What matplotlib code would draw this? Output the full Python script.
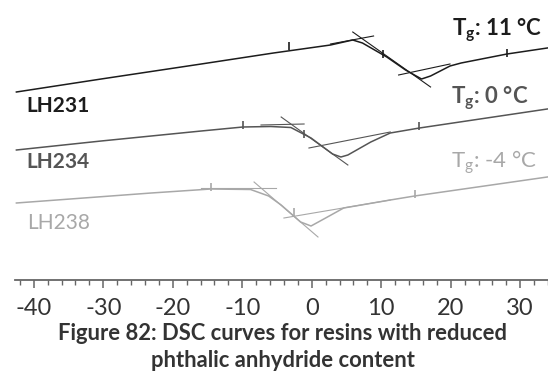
import numpy as np
import matplotlib
matplotlib.use("Agg")
import matplotlib.pyplot as plt
from matplotlib.ticker import MultipleLocator

plt.rcParams['font.family'] = ['Lato', 'DejaVu Sans']
plt.rcParams['mathtext.fontset'] = 'custom'
plt.rcParams['mathtext.rm'] = 'Lato'
plt.rcParams['mathtext.bf'] = 'Lato:bold'

# DSC curves: temperature (°C) vs heat flow (arbitrary units, stacked)
t_231 = [-42.5, -30.3, -15.9, -5.5, 2.7, 5.9, 7.3, 10.8, 13.5, 15.8, 17.1, 19.9, 21.5, 28.1, 33.9]
h_231 = [18.8, 20.1, 21.6, 22.7, 23.5, 24.0, 23.7, 22.3, 21.0, 20.1, 20.4, 21.4, 21.7, 22.6, 23.2]

t_234 = [-42.5, -30.3, -15.9, -9.9, -5.9, -3.0, -0.1, 3.0, 4.2, 5.2, 8.5, 11.3, 15.5, 33.9]
h_234 = [13.0, 13.9, 14.9, 15.3, 15.35, 15.25, 14.2, 12.6, 12.3, 12.5, 13.8, 14.7, 15.2, 17.1]

t_238 = [-42.5, -23.1, -14.5, -8.8, -6.2, -4.4, -1.6, -0.1, 2.0, 4.6, 11.3, 14.8, 33.9]
h_238 = [7.7, 8.7, 9.1, 9.05, 8.4, 7.5, 5.8, 5.4, 6.2, 7.2, 8.0, 8.4, 10.3]

# tangent construction lines (pre baseline, step tangent, post baseline)
tan_231 = [([2.7, 8.9], [23.6, 24.4]), ([5.9, 17.1], [24.8, 19.3]), ([12.5, 19.9], [20.5, 21.6])]
tan_234 = [([-7.3, -1.1], [15.5, 15.6]), ([-4.4, 5.2], [16.3, 11.5]), ([-0.4, 11.3], [13.2, 14.8])]
tan_238 = [([-15.9, -5.2], [9.2, 9.2]), ([-8.3, 0.9], [9.8, 4.3]), ([-4.0, 11.3], [6.2, 8.0])]

# evaluation markers
mk_231_t = [-3.2, 10.3, 28.1]
mk_231_h = [23.4, 22.6, 22.7]
mk_234_t = [-9.9, -1.1, 15.5]
mk_234_h = [15.5, 14.6, 15.4]
mk_238_t = [-14.5, -2.5, 14.8]
mk_238_h = [9.3, 6.8, 8.6]

names = ["LH231", "LH234", "LH238"]
tg_labels = ["11 °C", "0 °C", "-4 °C"]
colors = ["#1c1c1c", "#555555", "#a8a8a8"]

fig = plt.figure(figsize=(5.48, 3.74), dpi=100)
ax = fig.add_axes([15/548, 94/374, 533/548, 280/374])

curves = [(t_231, h_231, tan_231, mk_231_t, mk_231_h),
          (t_234, h_234, tan_234, mk_234_t, mk_234_h),
          (t_238, h_238, tan_238, mk_238_t, mk_238_h)]

for (t, h, tans, mt, mh), c in zip(curves, colors):
    ax.plot(t, h, color=c, lw=1.1)
    for tx, ty in tans:
        ax.plot(tx, ty, color=c, lw=0.8)
    ax.plot(mt, mh, ls='none', marker='|', ms=6, mew=1.2, color=c)

# labels
ax.text(-41.0, 16.8, names[0], color=colors[0], fontsize=15, fontweight='bold', va='baseline')
ax.text(-41.0, 11.2, names[1], color=colors[1], fontsize=15, fontweight='bold', va='baseline')
ax.text(-41.0, 5.1, names[2], color=colors[2], fontsize=15, va='baseline')

ax.text(20.2, 24.5, r'T$_{\mathbf{g}}$: ' + tg_labels[0], color=colors[0], fontsize=16, fontweight='bold', va='baseline')
ax.text(20.1, 17.7, r'T$_{\mathbf{g}}$: ' + tg_labels[1], color=colors[1], fontsize=16, fontweight='bold', va='baseline')
ax.text(20.1, 11.3, r'T$_{\mathrm{g}}$: ' + tg_labels[2], color=colors[2], fontsize=16, va='baseline')

ax.set_xlim(-42.7, 34.0)
ax.set_ylim(0, 28.0)
for s in ['top', 'left', 'right']:
    ax.spines[s].set_visible(False)
ax.spines['bottom'].set_color('#666666')
ax.spines['bottom'].set_linewidth(1.3)
ax.set_yticks([])
ax.xaxis.set_major_locator(MultipleLocator(10))
ax.xaxis.set_minor_locator(MultipleLocator(2))
ax.tick_params(axis='x', which='major', length=6, width=1.1, color='#666666',
               labelsize=17, labelcolor='#333333', pad=7)
ax.tick_params(axis='x', which='minor', length=3.5, width=1.0, color='#666666')
ax.set_xticklabels([f"{int(v)}" for v in ax.get_xticks()])

fig.text(0.516, 1 - 340/374, "Figure 82: DSC curves for resins with reduced",
         ha='center', va='baseline', fontsize=15.8, fontweight='bold', color='#333333')
fig.text(0.516, 1 - 367/374, "phthalic anhydride content",
         ha='center', va='baseline', fontsize=15.8, fontweight='bold', color='#333333')

fig.savefig("out.png", dpi=100)
